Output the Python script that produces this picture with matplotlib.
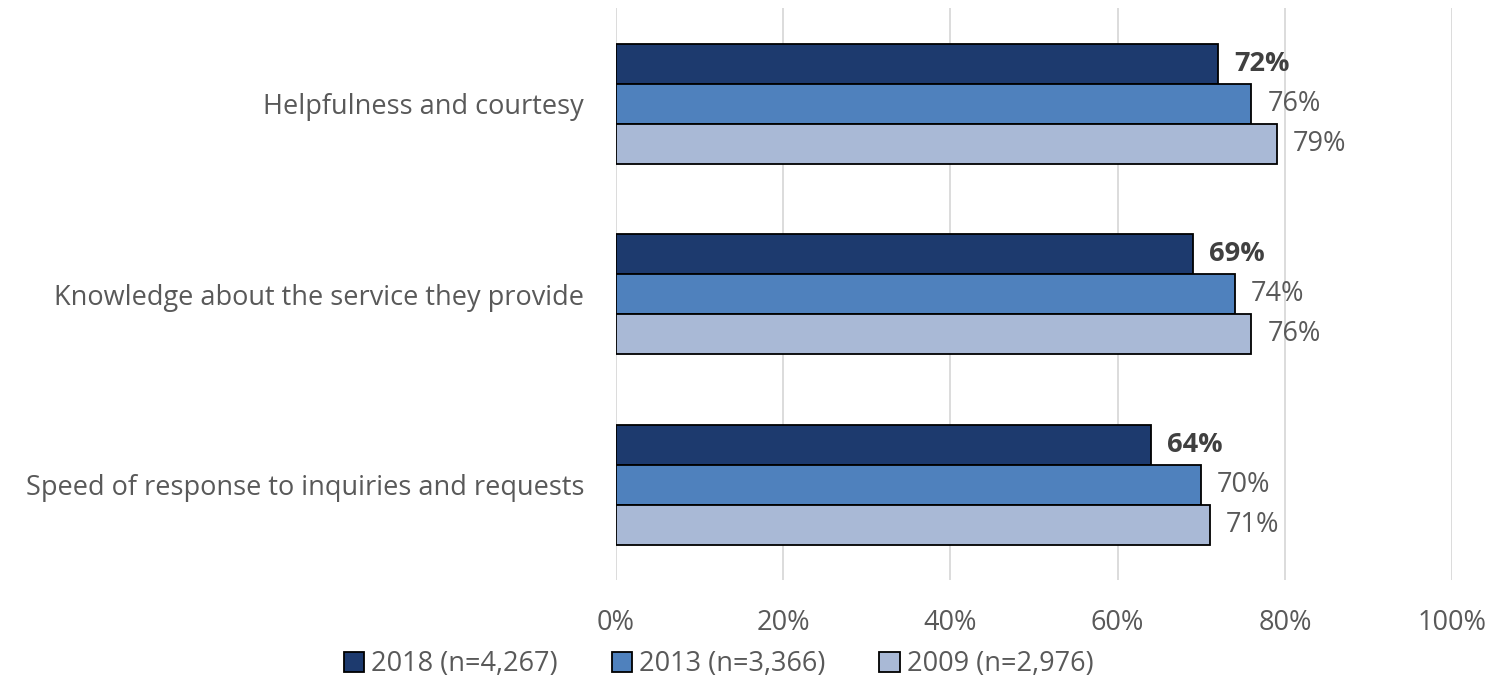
import matplotlib
matplotlib.use("Agg")
import matplotlib.pyplot as plt
import numpy as np

categories = ["Helpfulness and courtesy",
              "Knowledge about the service they provide",
              "Speed of response to inquiries and requests"]
series_names = ["2018 (n=4,267)", "2013 (n=3,366)", "2009 (n=2,976)"]
values_2018 = [72, 69, 64]
values_2013 = [76, 74, 70]
values_2009 = [79, 76, 71]
colors = ["#1d3a6e", "#4f81bd", "#a9b9d6"]
xticks = [0, 20, 40, 60, 80, 100]

plt.rcParams['font.family'] = ['Open Sans', 'DejaVu Sans']
fig = plt.figure(figsize=(14.97, 6.91), dpi=100)
ax = fig.add_axes([0.4115, 0.161, 0.5585, 0.827])

FS = 19.5
n = len(categories)
ypos = np.arange(n)
h = 0.21
all_vals = [values_2018, values_2013, values_2009]
for i, (vals, name, c) in enumerate(zip(all_vals, series_names, colors)):
    y = ypos + (i - 1) * h
    ax.barh(y, vals, height=h, color=c, edgecolor="black", linewidth=1.3, label=name, zorder=3)
    for yy, v in zip(y, vals):
        ax.text(v + 1.9, yy, f"{v}%", va="center", ha="left", fontsize=FS,
                color="#404040" if i == 0 else "#595959",
                fontweight="bold" if i == 0 else "normal")

ax.set_ylim(n - 0.5, -0.5)
ax.set_xlim(0, 100)
ax.set_xticks(xticks)
ax.set_xticklabels([f"{t}%" for t in xticks], fontsize=FS, color="#595959")
ax.set_yticks(ypos)
ax.set_yticklabels(categories, fontsize=FS, color="#595959")
ax.tick_params(axis="y", length=0, pad=23)
ax.tick_params(axis="x", length=0, pad=21)
ax.grid(axis="x", color="#d9d9d9", linewidth=1.3, zorder=0)
for s in ax.spines.values():
    s.set_visible(False)

leg = fig.legend(loc="center", bbox_to_anchor=(0.48, 0.039), ncol=3, frameon=False,
                 fontsize=FS, handlelength=0.75, handleheight=0.75, handletextpad=0.25,
                 columnspacing=2.0, labelcolor="#595959")
fig.savefig("out.png", dpi=100)
